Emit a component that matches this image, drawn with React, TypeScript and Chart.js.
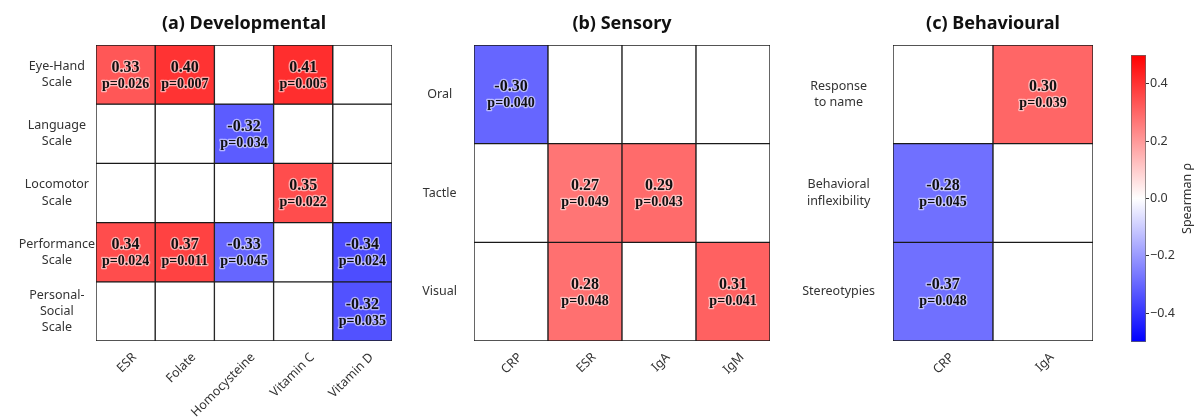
import React, { useEffect, useRef } from 'react';
import { Chart, registerables } from 'chart.js';

Chart.register(...registerables);

// ---------- DATA ----------
const devCols = ['ESR', 'Folate', 'Homocysteine', 'Vitamin C', 'Vitamin D'];
const devRows = [['Eye-Hand', 'Scale'], ['Language', 'Scale'], ['Locomotor', 'Scale'], ['Performance', 'Scale'], ['Personal-', 'Social', 'Scale']];
const devRho = [
  [0.33, 0.40, null, 0.41, null],
  [null, null, -0.32, null, null],
  [null, null, null, 0.35, null],
  [0.34, 0.37, -0.33, null, -0.34],
  [null, null, null, null, -0.32],
];
const devP = [
  [0.026, 0.007, null, 0.005, null],
  [null, null, 0.034, null, null],
  [null, null, null, 0.022, null],
  [0.024, 0.011, 0.045, null, 0.024],
  [null, null, null, null, 0.035],
];
// cell shading
const devShade = [
  [0.33, 0.40, null, 0.41, null],
  [null, null, -0.32, null, null],
  [null, null, null, 0.35, null],
  [0.35, 0.37, -0.30, null, -0.35],
  [null, null, null, null, -0.34],
];

const senCols = ['CRP', 'ESR', 'IgA', 'IgM'];
const senRows = [['Oral'], ['Tactle'], ['Visual']];
const senRho = [
  [-0.30, null, null, null],
  [null, 0.27, 0.29, null],
  [null, 0.28, null, 0.31],
];
const senP = [
  [0.040, null, null, null],
  [null, 0.049, 0.043, null],
  [null, 0.048, null, 0.041],
];
const senShade = [
  [-0.30, null, null, null],
  [null, 0.27, 0.29, null],
  [null, 0.28, null, 0.31],
];

const behCols = ['CRP', 'IgA'];
const behRows = [['Response', 'to name'], ['Behavioral', 'inflexibility'], ['Stereotypies']];
const behRho = [
  [null, 0.30],
  [-0.28, null],
  [-0.37, null],
];
const behP = [
  [null, 0.039],
  [0.045, null],
  [0.048, null],
];
const behShade = [
  [null, 0.30],
  [-0.28, null],
  [-0.28, null],
];

const cbMin = -0.5;
const cbMax = 0.5;
const cbTicks = [-0.4, -0.2, 0, 0.2, 0.4];
const cbLabel = 'Spearman \u03C1';

// ---------- HELPERS ----------
function bwr(v: number | null): string {
  if (v == null) return '#ffffff';
  const t = Math.max(-1, Math.min(1, v / cbMax));
  if (t >= 0) {
    const c = Math.round(255 * (1 - t));
    return `rgb(255,${c},${c})`;
  }
  const c = Math.round(255 * (1 + t));
  return `rgb(${c},${c},255)`;
}

const SANS = "'Noto Sans', 'DejaVu Sans', sans-serif";
const SERIF = "'Liberation Serif', 'DejaVu Serif', serif";

const cellText = {
  id: 'cellText',
  afterDatasetsDraw(chart: any) {
    const ctx = chart.ctx;
    ctx.save();
    ctx.textAlign = 'center';
    ctx.textBaseline = 'middle';
    ctx.lineJoin = 'round';
    chart.data.datasets.forEach((ds: any, di: number) => {
      const meta = chart.getDatasetMeta(di);
      meta.data.forEach((el: any, i: number) => {
        const v = ds.rho[i];
        if (v == null) return;
        const cx = el.x;
        const cy = (el.y + el.base) / 2;
        const lines = [
          { t: v.toFixed(2), f: `bold 16px ${SERIF}`, y: cy - 7 },
          { t: 'p=' + ds.pv[i].toFixed(3), f: `bold 14px ${SERIF}`, y: cy + 9.5 },
        ];
        lines.forEach((l) => {
          ctx.font = l.f;
          ctx.strokeStyle = 'rgba(255,255,255,0.55)';
          ctx.lineWidth = 2.5;
          ctx.strokeText(l.t, cx, l.y);
          ctx.fillStyle = '#111';
          ctx.fillText(l.t, cx, l.y);
        });
      });
    });
    ctx.restore();
  },
};

function heatConfig(title: string, cols: string[], rows: string[][], rho: (number | null)[][], pv: (number | null)[][], shade: (number | null)[][], yWidth: number, yPad: number, rightPad: number): any {
  const datasets = rows.map((_, r) => ({
    label: 'row' + r,
    data: cols.map(() => [r - 0.5, r + 0.5]),
    backgroundColor: shade[r].map(bwr),
    borderColor: '#1a1a1a',
    borderWidth: 1,
    borderSkipped: false,
    categoryPercentage: 1,
    barPercentage: 1,
    grouped: false,
    rho: rho[r],
    pv: pv[r],
  }));
  return {
    type: 'bar',
    data: { labels: cols, datasets },
    plugins: [cellText],
    options: {
      responsive: false,
      animation: false,
      layout: { padding: { left: 0, right: rightPad, top: 0, bottom: 0 } },
      plugins: {
        legend: { display: false },
        tooltip: { enabled: false },
        title: {
          display: true,
          text: title,
          fullSize: false,
          color: '#111',
          font: { family: SANS, size: 18, weight: 'bold', lineHeight: 1.2 },
          padding: { top: 13.2, bottom: 10.2 },
        },
      },
      scales: {
        x: {
          type: 'category',
          offset: true,
          grid: { display: false, drawTicks: false },
          border: { display: false },
          ticks: {
            autoSkip: false,
            minRotation: 45,
            maxRotation: 45,
            color: '#333',
            padding: 9,
            labelOffset: 9,
            font: { family: SANS, size: 12.5 },
          },
          afterFit: (a: any) => { a.height = 77; },
        },
        y: {
          type: 'linear',
          reverse: true,
          min: -0.5,
          max: rows.length - 0.5,
          grid: { display: false, drawTicks: false },
          border: { display: false },
          afterBuildTicks: (a: any) => { a.ticks = rows.map((_, i) => ({ value: i })); },
          ticks: {
            callback: (v: any) => rows[v],
            crossAlign: 'center',
            padding: yPad,
            color: '#333',
            font: { family: SANS, size: 12.5, lineHeight: 1.3 },
          },
          afterFit: (a: any) => { a.width = yWidth; },
        },
      },
    },
  };
}

const cbTitle = {
  id: 'cbTitle',
  afterDraw(chart: any) {
    const ctx = chart.ctx;
    const a = chart.chartArea;
    ctx.save();
    ctx.translate(a.right + 41, (a.top + a.bottom) / 2);
    ctx.rotate(-Math.PI / 2);
    ctx.textAlign = 'center';
    ctx.textBaseline = 'middle';
    ctx.font = `12.5px ${SANS}`;
    ctx.fillStyle = '#333';
    ctx.fillText(cbLabel, 0, 0);
    ctx.restore();
  },
};

function colorbarConfig(): any {
  return {
    type: 'bar',
    data: {
      labels: [''],
      datasets: [{
        data: [[cbMin, cbMax]],
        backgroundColor: (c: any) => {
          const ch = c.chart;
          const a = ch.chartArea;
          if (!a) return '#fff';
          const g = ch.ctx.createLinearGradient(0, a.bottom, 0, a.top);
          g.addColorStop(0, bwr(cbMin));
          g.addColorStop(0.5, bwr(0));
          g.addColorStop(1, bwr(cbMax));
          return g;
        },
        borderColor: '#666',
        borderWidth: 1,
        borderSkipped: false,
        categoryPercentage: 1,
        barPercentage: 1,
      }],
    },
    plugins: [cbTitle],
    options: {
      responsive: false,
      animation: false,
      layout: { padding: { left: 21, right: 23, top: 55, bottom: 76 } },
      plugins: { legend: { display: false }, tooltip: { enabled: false }, title: { display: false } },
      scales: {
        x: { display: false },
        y: {
          position: 'right',
          min: cbMin,
          max: cbMax,
          grid: { drawOnChartArea: false, drawTicks: true, tickLength: 3, color: '#333' },
          border: { display: false },
          afterBuildTicks: (a: any) => { a.ticks = cbTicks.map((v) => ({ value: v })); },
          ticks: {
            padding: 1,
            color: '#333',
            font: { family: SANS, size: 12.5 },
            callback: (v: any) => (v === 0 ? '0.0' : (v < 0 ? '\u2212' : '') + Math.abs(v).toFixed(1)),
          },
          afterFit: (a: any) => { a.width = 30; },
        },
      },
    },
  };
}

function ChartCanvas({ make, left, width }: { make: () => any; left: number; width: number }) {
  const ref = useRef<HTMLCanvasElement | null>(null);
  useEffect(() => {
    const chart = new Chart(ref.current as HTMLCanvasElement, make());
    return () => chart.destroy();
  }, []);
  return (
    <canvas
      ref={ref}
      width={width}
      height={418}
      style={{ position: 'absolute', left, top: 0, width, height: 418 }}
    />
  );
}

export default function App() {
  return (
    <div style={{ position: 'fixed', left: 0, top: 0, width: 1199, height: 418, background: '#fff', overflow: 'hidden' }}>
      <ChartCanvas left={0} width={400} make={() => heatConfig('(a) Developmental', devCols, devRows, devRho, devP, devShade, 96, 1, 8)} />
      <ChartCanvas left={400} width={375} make={() => heatConfig('(b) Sensory', senCols, senRows, senRho, senP, senShade, 74, 17, 5)} />
      <ChartCanvas left={775} width={335} make={() => heatConfig('(c) Behavioural', behCols, behRows, behRho, behP, behShade, 118, 18, 17)} />
      <ChartCanvas left={1110} width={89} make={colorbarConfig} />
    </div>
  );
}
